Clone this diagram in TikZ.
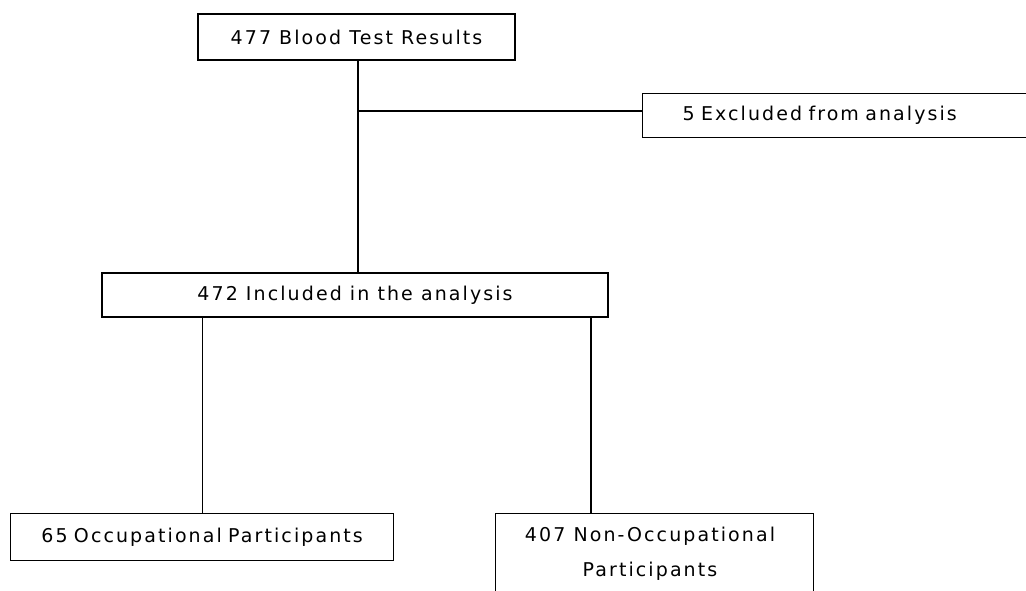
\documentclass[tikz,border=0pt]{standalone}
\usepackage{fontspec}
\setmainfont{DejaVu Sans}[LetterSpace=11]
\begin{document}
\begin{tikzpicture}[x=1pt,y=-1pt,
  box/.style={draw=black, line width=1.2pt, fill=white, inner sep=0pt, font=\fontsize{19}{35}\selectfont},
  txt/.style={inner sep=0pt, align=center, font=\fontsize{19}{35}\selectfont},
  link/.style={draw=black, line width=1.2pt}]
\useasboundingbox (0,0) rectangle (1026,590);
\clip (0,0) rectangle (1026,590);
\fill[white] (0,0) rectangle (1026,590);
% boxes
\node[box, minimum width=317pt, minimum height=46pt] (b1) at (356.5,37) {477 Blood Test Results};
\node[box, anchor=north west, minimum width=420pt, minimum height=44pt, text width=340pt, inner xsep=40pt, align=left] (b3) at (642,93) {5 Excluded from analysis};
\node[box, minimum width=506pt, minimum height=44pt] (b2) at (355,295) {472 Included in the analysis};
\node[box, anchor=north west, minimum width=383pt, minimum height=47pt, text width=363pt, inner xsep=10pt, align=center] (b4) at (10,513) {65 Occupational Participants};
\node[box, anchor=north west, minimum width=318pt, minimum height=100pt] (b5) at (495,513) {};
\node[txt] (b5t) at (650,554) {407 Non-Occupational\\Participants};
% connectors
\coordinate (j) at (358,111);
\coordinate (r) at (591,0);
\draw[link] (j |- b1.south) -- (j |- b2.north);
\draw[link] (j) -- (j -| b3.west);
\draw[link] (b4.north |- b2.south) -- (b4.north);
\draw[link] (r |- b2.south) -- (r |- b5.north);
\end{tikzpicture}
\end{document}
